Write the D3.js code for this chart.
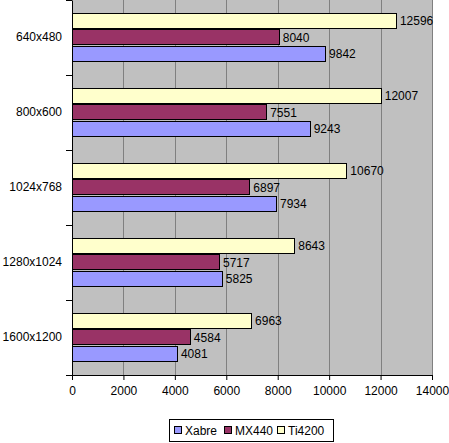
<!DOCTYPE html>
<html><head><meta charset="utf-8">
<script src="https://cdn.jsdelivr.net/npm/d3@7"></script>
<style>body{margin:0;background:#fff}svg{display:block;font-family:"Liberation Sans",Arial,sans-serif}</style>
</head><body><svg id="c" width="449" height="443"></svg>
<script>
const categories = ["640x480","800x600","1024x768","1280x1024","1600x1200"];
const seriesNames = ["Xabre","MX440","Ti4200"];
const xabre = [9842,9243,7934,5825,4081];
const mx440 = [8040,7551,6897,5717,4584];
const ti4200 = [12596,12007,10670,8643,6963];
const xTicks = [0,2000,4000,6000,8000,10000,12000,14000];
const colors = {Xabre:"#9999FF", MX440:"#993366", Ti4200:"#FFFFCC"};
const seriesVals = {Xabre:xabre, MX440:mx440, Ti4200:ti4200};

const svg = d3.select("#c");
const L=72, R=432, T=0, B=375;
const x = d3.scaleLinear().domain([0,14000]).range([L,R]);
const y = d3.scaleBand().domain(categories).range([T,B]);
const inner = d3.scaleBand().domain(["Ti4200","MX440","Xabre"]).range([13,62]).paddingInner(0.0);

svg.append("rect").attr("x",L).attr("y",T).attr("width",R-L).attr("height",B-T).attr("fill","#C0C0C0");
svg.append("g").selectAll("line").data(xTicks.slice(1)).join("line")
  .attr("x1",d=>Math.round(x(d))+0.5).attr("x2",d=>Math.round(x(d))+0.5).attr("y1",T).attr("y2",B)
  .attr("stroke","#808080").attr("stroke-width",1);

const rows=[];
categories.forEach((c,i)=>seriesNames.forEach(s=>rows.push({c,s,v:seriesVals[s][i]})));
svg.append("g").selectAll("rect").data(rows).join("rect")
  .attr("x",L+0.5).attr("y",d=>Math.round(y(d.c)+inner(d.s))+0.5)
  .attr("width",d=>Math.round(x(d.v)-L)).attr("height",Math.round(inner.bandwidth())-1)
  .attr("fill",d=>colors[d.s]).attr("stroke","#000").attr("stroke-width",1);
svg.append("g").selectAll("text").data(rows).join("text")
  .attr("x",d=>x(d.v)+4).attr("y",d=>y(d.c)+inner(d.s)+inner.bandwidth()/2+4)
  .attr("font-size",12).text(d=>d.v);

const xa = svg.append("g").attr("transform",`translate(0,${B})`)
  .call(d3.axisBottom(x).tickValues(xTicks).tickSize(5).tickPadding(6).tickFormat(d3.format("d")));
const ya = svg.append("g").attr("transform",`translate(${L},0)`)
  .call(d3.axisLeft(y).tickSize(0).tickPadding(10));
[xa,ya].forEach(a=>{a.selectAll("text").attr("font-size",12).attr("fill","#000").attr("font-family","Liberation Sans, Arial, sans-serif");a.select(".domain").attr("stroke","#000");a.selectAll("line").attr("stroke","#000");});
// left boundary ticks
svg.append("g").selectAll("line").data(d3.range(categories.length+1)).join("line")
  .attr("x1",L-6).attr("x2",L).attr("y1",i=>y.step()*i+0.5).attr("y2",i=>y.step()*i+0.5).attr("stroke","#000");

// legend
const lg = svg.append("g");
lg.append("rect").attr("x",169.5).attr("y",419.5).attr("width",164).attr("height",22).attr("fill","#fff").attr("stroke","#000");
const lx=[174,224,277];
seriesNames.forEach((s,i)=>{
  lg.append("rect").attr("x",lx[i]+0.5).attr("y",426.5).attr("width",7).attr("height",7).attr("fill",colors[s]).attr("stroke","#000");
  lg.append("text").attr("x",lx[i]+11).attr("y",435).attr("font-size",12).text(s);
});
</script></body></html>
